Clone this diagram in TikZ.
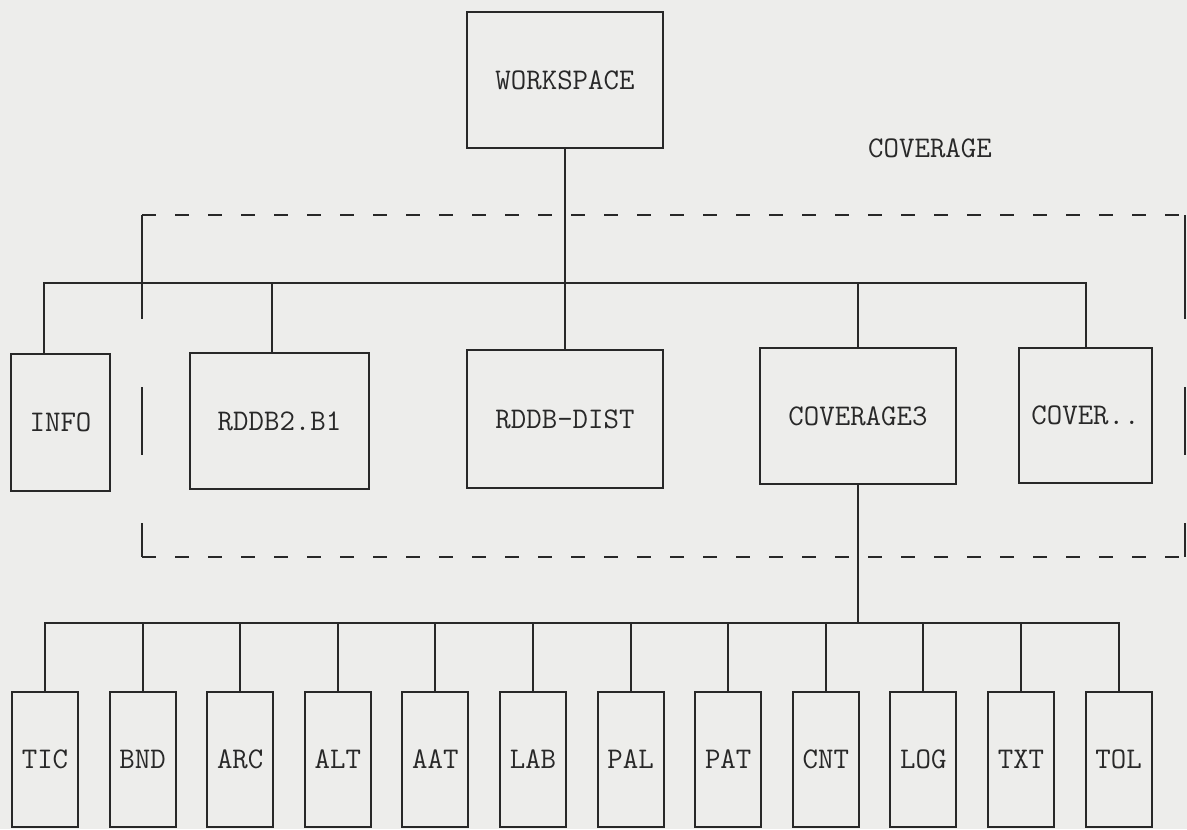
\documentclass[tikz,border=0pt]{standalone}
\usepackage{fontspec}
\usepackage{tikz}
\usetikzlibrary{positioning,calc}
\definecolor{paper}{RGB}{237,237,235}
\definecolor{ink}  {RGB}{ 40, 40, 40}
\newcommand{\tw}{\fontsize{15}{18}\selectfont\ttfamily}
\tikzset{
  box/.style   ={rectangle,draw=ink,line width=1pt,inner sep=0pt,
                 text=ink,align=center,font=\tw},
  bigbox/.style={box,minimum width=98pt,minimum height=68pt},
  leaf/.style  ={box,minimum width=33pt,minimum height=67.5pt},
  lbl/.style   ={text=ink,font=\tw,inner sep=1pt},
  wire/.style  ={draw=ink,line width=1pt},
  hdash/.style ={wire,dash pattern=on 7pt off 9.5pt},
  vdash/.style ={wire,dash pattern=on 52pt off 34pt on 34pt off 34pt on 30pt},
}

\begin{document}
\begin{tikzpicture}[x=0.5pt,y=-0.5pt]
  \fill[paper] (0,0) rectangle (1187,829);
  \useasboundingbox (0,0) rectangle (1187,829);

  % top level
  \node[bigbox,minimum height=67.5pt] (ws)   at (565,80)     {WORKSPACE};
  \node[lbl]                          (cov)  at (930,148)    {COVERAGE};

  % coverage directory
  \node[box,minimum width=49.5pt,minimum height=68.5pt]
                                      (info) at (60.5,422.5) {INFO};
  \node[bigbox,minimum width=89.5pt]  (rddb) at (279.5,421)  {RDDB2.B1};
  \node[bigbox,minimum height=69pt]   (dist) at (565,419)    {RDDB-DIST};
  \node[bigbox]                       (cov3) at (858,416)    {COVERAGE3};
  \node[bigbox,minimum width=66.5pt,minimum height=67.5pt]
                                      (cover) at (1085.5,415.5) {COVER..};

  % files of COVERAGE3
  \node[leaf]                    (tic) at (45,759.5) {TIC};
  \node[leaf,right=14.8pt of tic] (bnd) {BND};
  \node[leaf,right=14.8pt of bnd] (arc) {ARC};
  \node[leaf,right=14.8pt of arc] (alt) {ALT};
  \node[leaf,right=14.8pt of alt] (aat) {AAT};
  \node[leaf,right=14.8pt of aat] (lab) {LAB};
  \node[leaf,right=14.8pt of lab] (pal) {PAL};
  \node[leaf,right=14.8pt of pal] (pat) {PAT};
  \node[leaf,right=14.8pt of pat] (cnt) {CNT};
  \node[leaf,right=14.8pt of cnt] (log) {LOG};
  \node[leaf,right=14.8pt of log] (txt) {TXT};
  \node[leaf,right=14.8pt of txt] (tol) {TOL};

  % dashed frame round the coverage
  \coordinate (fnw) at (142,215);
  \coordinate (fse) at (1185,557);
  \draw[hdash] (fnw) -- (fnw -| fse);
  \draw[hdash] (fnw |- fse) -- (fse);
  \draw[vdash] (fnw) -- (fnw |- fse);
  \draw[vdash] (fnw -| fse) -- (fse);

  % upper tree
  \coordinate (bus)  at (565,283);
  \draw[wire] (ws.south) -- (dist.north);
  \draw[wire] ([xshift=-8.5pt]info.north) |- (bus) -| (cover.north);
  \draw[wire] ([xshift=-4pt]rddb.north) -- ([xshift=-4pt]rddb.north |- bus);
  \draw[wire] (cov3.north) -- (cov3.north |- bus);

  % lower tree
  \coordinate (lbus) at (858,623);
  \draw[wire] (cov3.south) -- (lbus);
  \draw[wire] (tic.north) |- (lbus) -| (tol.north);
  \draw[wire] (bnd.north) -- (bnd.north |- lbus)
              (arc.north) -- (arc.north |- lbus)
              (alt.north) -- (alt.north |- lbus)
              (aat.north) -- (aat.north |- lbus)
              (lab.north) -- (lab.north |- lbus)
              (pal.north) -- (pal.north |- lbus)
              (pat.north) -- (pat.north |- lbus)
              (cnt.north) -- (cnt.north |- lbus)
              (log.north) -- (log.north |- lbus)
              (txt.north) -- (txt.north |- lbus);
\end{tikzpicture}
\end{document}
